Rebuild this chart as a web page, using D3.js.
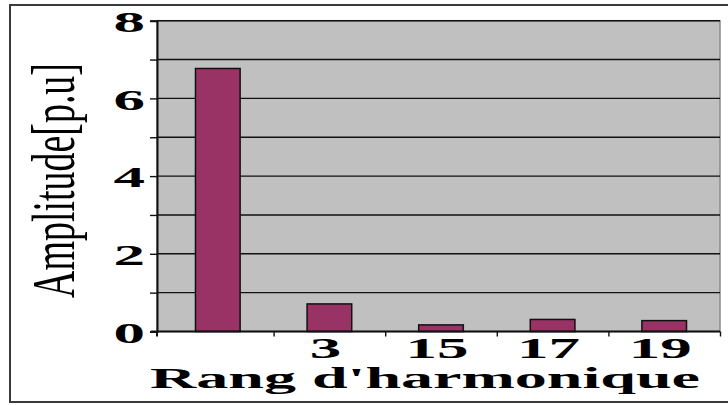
<!DOCTYPE html>
<html>
<head>
<meta charset="utf-8">
<script src="https://cdn.jsdelivr.net/npm/d3@7"></script>
<style>
  html, body { margin: 0; padding: 0; background: #ffffff; }
  svg { display: block; }
</style>
</head>
<body>
<svg id="chart" width="728" height="405"></svg>
<script>
// Harmonic spectrum: amplitude per harmonic rank (fundamental label left blank)
const categories = ["", "3", "15", "17", "19"];
const amplitudes = [6.77, 0.71, 0.17, 0.31, 0.28];
const yTicks = [0, 1, 2, 3, 4, 5, 6, 7, 8];
const yLabelled = [0, 2, 4, 6, 8];
const xTitle = "Rang d'harmonique";
const yTitle = "Amplitude[p.u]";

const plot = { left: 157, right: 720, top: 20.7, bottom: 331.5 };
const stretch = 2.1; // wide serif lettering
const labelFont = "'Liberation Serif', 'Times New Roman', serif";

const svg = d3.select("#chart");

// outer frame
svg.append("rect")
  .attr("x", 10).attr("y", 5)
  .attr("width", 730).attr("height", 397)
  .attr("fill", "#ffffff")
  .attr("stroke", "#3a3a3a")
  .attr("stroke-width", 2);

const y = d3.scaleLinear().domain([0, 8]).range([plot.bottom, plot.top]);
const x = d3.scaleBand().domain(categories).range([162, plot.right]).paddingInner(0.6).paddingOuter(0.3);
const xEdges = d3.scaleLinear().domain([0, categories.length]).range([162, plot.right]);

// plot area
svg.append("rect")
  .attr("x", plot.left).attr("y", plot.top)
  .attr("width", plot.right - plot.left).attr("height", plot.bottom - plot.top)
  .attr("fill", "#c0c0c0")
  .attr("stroke", "#8a8a8a")
  .attr("stroke-width", 1.5);

// horizontal gridlines at every unit
svg.append("g")
  .selectAll("line")
  .data(yTicks.filter(v => v > 0))
  .join("line")
  .attr("x1", plot.left).attr("x2", plot.right)
  .attr("y1", d => y(d)).attr("y2", d => y(d))
  .attr("stroke", "#111")
  .attr("stroke-width", 1.4);

// bars
svg.append("g")
  .selectAll("rect")
  .data(amplitudes)
  .join("rect")
  .attr("x", (d, i) => x(categories[i]))
  .attr("y", d => y(d))
  .attr("width", x.bandwidth())
  .attr("height", d => y(0) - y(d))
  .attr("fill", "#993366")
  .attr("stroke", "#111")
  .attr("stroke-width", 1.5);

// y axis with ticks at every unit, labels on even values
svg.append("g")
  .attr("transform", `translate(${plot.left},0)`)
  .call(d3.axisLeft(y).tickValues(yTicks).tickSize(7).tickPadding(0)
    .tickFormat(d => yLabelled.includes(d) ? d3.format("d")(d) : ""))
  .call(g => g.select(".domain").attr("stroke", "#111").attr("stroke-width", 2))
  .call(g => g.selectAll(".tick line").attr("stroke", "#111").attr("stroke-width", 1.4))
  .call(g => g.selectAll(".tick text")
    .attr("x", -12 / stretch)
    .attr("dy", "0.36em")
    .attr("transform", `scale(${stretch},1)`)
    .attr("fill", "#000")
    .style("font-family", labelFont)
    .style("font-weight", "bold")
    .style("font-size", "30px"));

// x axis: category boundary tick marks (the first one sits at the axis corner)
svg.append("g")
  .attr("transform", `translate(0,${plot.bottom})`)
  .call(d3.axisBottom(xEdges).tickValues(d3.range(1, categories.length + 1)).tickSize(5).tickFormat(""))
  .call(g => g.select(".domain")
    .attr("d", `M${plot.left - 6},0H${plot.right}M${plot.left},0V5`)
    .attr("stroke", "#111").attr("stroke-width", 2))
  .call(g => g.selectAll(".tick line").attr("stroke", "#111").attr("stroke-width", 1.4));

// x axis: category labels centred under each bar
svg.append("g")
  .attr("transform", `translate(-4,${plot.bottom})`)
  .call(d3.axisBottom(x).tickSize(0))
  .call(g => g.select(".domain").remove())
  .call(g => g.selectAll(".tick text")
    .attr("y", 5)
    .attr("dy", "0.71em")
    .attr("transform", `scale(${stretch},1)`)
    .attr("fill", "#000")
    .style("font-family", labelFont)
    .style("font-weight", "bold")
    .style("font-size", "30px"));

// x axis title
svg.append("text")
  .attr("x", 150).attr("y", 388)
  .attr("textLength", 550)
  .attr("lengthAdjust", "spacingAndGlyphs")
  .style("font-family", labelFont)
  .style("font-weight", "bold")
  .style("font-size", "30px")
  .attr("fill", "#000")
  .text(xTitle);

// y axis title, rotated and sized to span the axis
const yt = svg.append("text")
  .attr("text-anchor", "middle")
  .style("font-family", labelFont)
  .style("font-size", "29px")
  .attr("fill", "#000")
  .text(yTitle);
const natural = yt.node().getComputedTextLength();
yt.attr("transform", `translate(74,180.5) rotate(-90) scale(${235 / natural},2.1)`);
</script>
</body>
</html>
